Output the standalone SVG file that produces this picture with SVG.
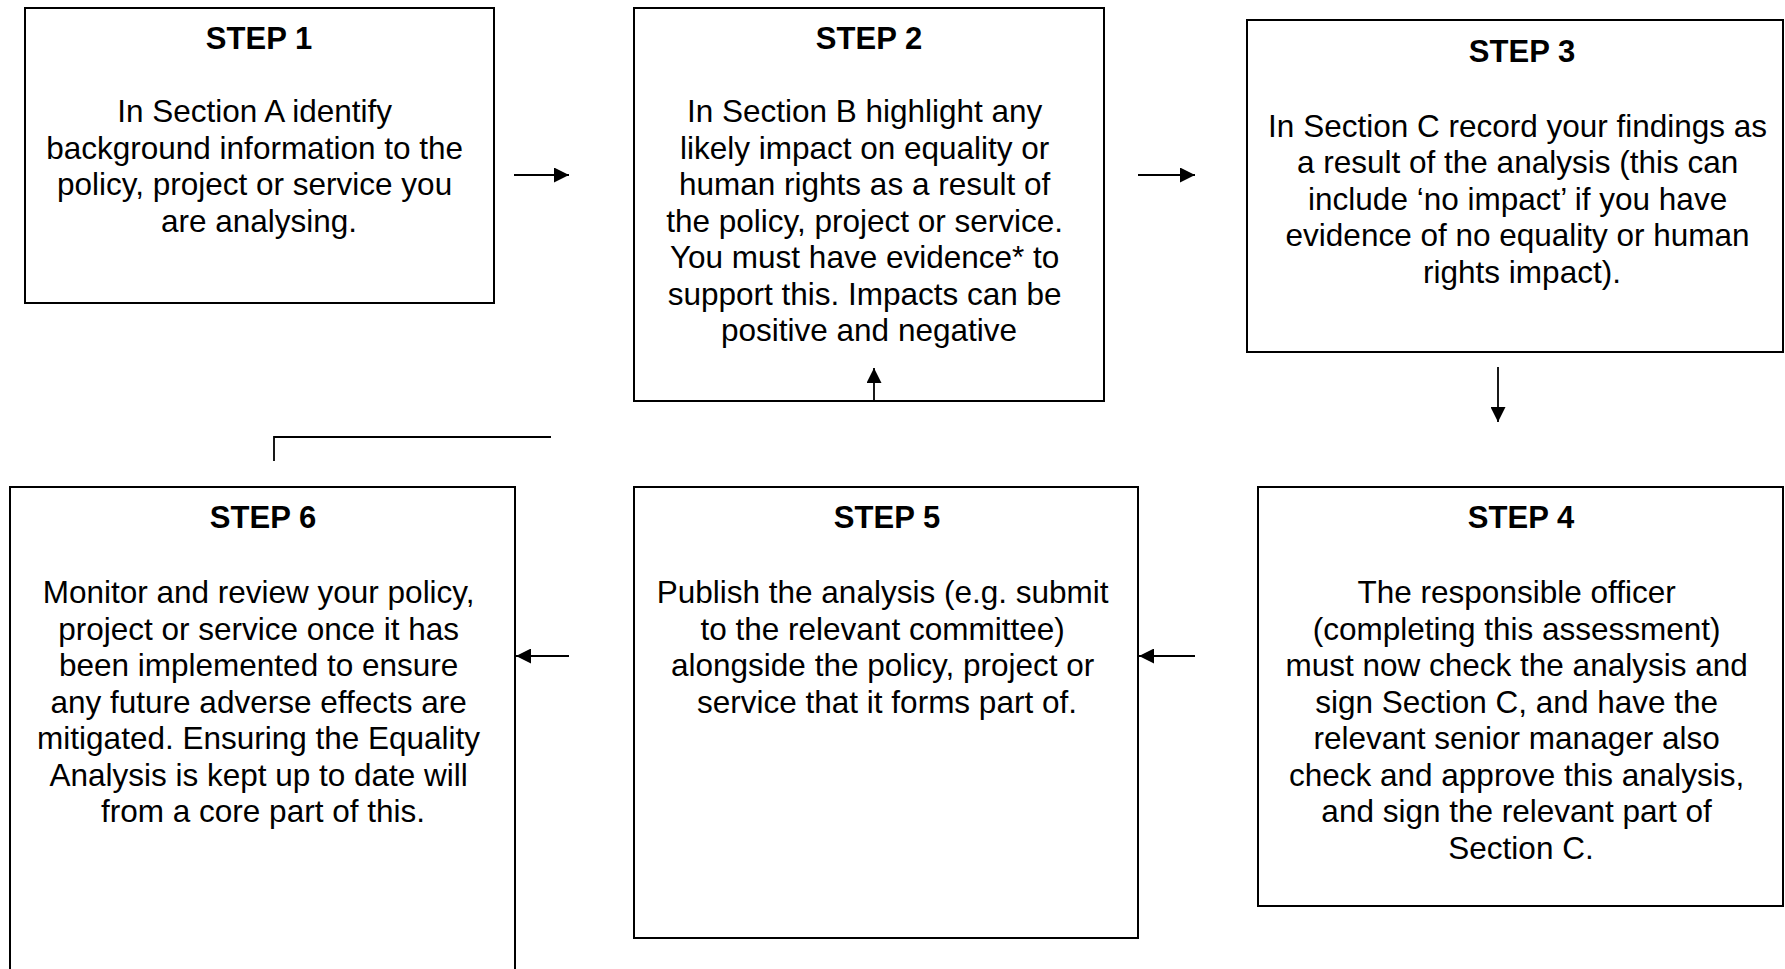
<svg xmlns="http://www.w3.org/2000/svg" width="1785" height="969" viewBox="0 0 1785 969">
  <style>
    .box { fill: #ffffff; stroke: #000000; stroke-width: 2; }
    .title { font-family: "Liberation Sans", Arial, sans-serif; font-size: 31px; font-weight: bold; fill: #000000; text-anchor: middle; }
    .body { font-family: "Liberation Sans", Arial, sans-serif; font-size: 31.5px; fill: #000000; text-anchor: middle; }
    .link { fill: none; stroke: #000000; stroke-width: 1.8; }
  </style>
  <defs>
    <marker id="arrow" viewBox="0 0 15 15" refX="15" refY="7.5" markerWidth="15" markerHeight="15" markerUnits="userSpaceOnUse" orient="auto">
      <path d="M0,0 L15,7.5 L0,15 z" fill="#000000"/>
    </marker>
  </defs>
  <rect width="1785" height="969" fill="#ffffff"/>

  <g id="step1">
    <rect class="box" x="25" y="8" width="469" height="295"/>
    <text class="title" x="259" y="49">STEP 1</text>
    <text class="body">
      <tspan x="259" y="122">In Section A identify</tspan>
      <tspan x="259" y="158.5">background information to the</tspan>
      <tspan x="259" y="195">policy, project or service you</tspan>
      <tspan x="259" y="231.5">are analysing.</tspan>
    </text>
  </g>

  <g id="step2">
    <rect class="box" x="634" y="8" width="470" height="393"/>
    <text class="title" x="869" y="49">STEP 2</text>
    <text class="body">
      <tspan x="869" y="122">In Section B highlight any</tspan>
      <tspan x="869" y="158.5">likely impact on equality or</tspan>
      <tspan x="869" y="195">human rights as a result of</tspan>
      <tspan x="869" y="231.5">the policy, project or service.</tspan>
      <tspan x="869" y="268">You must have evidence* to</tspan>
      <tspan x="869" y="304.5">support this. Impacts can be</tspan>
      <tspan x="869" y="341">positive and negative</tspan>
    </text>
  </g>

  <g id="step3">
    <rect class="box" x="1247" y="20" width="536" height="332"/>
    <text class="title" x="1522" y="62">STEP 3</text>
    <text class="body">
      <tspan x="1522" y="136.5">In Section C record your findings as</tspan>
      <tspan x="1522" y="173">a result of the analysis (this can</tspan>
      <tspan x="1522" y="209.5">include ‘no impact’ if you have</tspan>
      <tspan x="1522" y="246">evidence of no equality or human</tspan>
      <tspan x="1522" y="282.5">rights impact).</tspan>
    </text>
  </g>

  <g id="step4">
    <rect class="box" x="1258" y="487" width="525" height="419"/>
    <text class="title" x="1521" y="528">STEP 4</text>
    <text class="body">
      <tspan x="1521" y="603">The responsible officer</tspan>
      <tspan x="1521" y="639.5">(completing this assessment)</tspan>
      <tspan x="1521" y="676">must now check the analysis and</tspan>
      <tspan x="1521" y="712.5">sign Section C, and have the</tspan>
      <tspan x="1521" y="749">relevant senior manager also</tspan>
      <tspan x="1521" y="785.5">check and approve this analysis,</tspan>
      <tspan x="1521" y="822">and sign the relevant part of</tspan>
      <tspan x="1521" y="858.5">Section C.</tspan>
    </text>
  </g>

  <g id="step5">
    <rect class="box" x="634" y="487" width="504" height="451"/>
    <text class="title" x="887" y="528">STEP 5</text>
    <text class="body">
      <tspan x="887" y="603">Publish the analysis (e.g. submit</tspan>
      <tspan x="887" y="639.5">to the relevant committee)</tspan>
      <tspan x="887" y="676">alongside the policy, project or</tspan>
      <tspan x="887" y="712.5">service that it forms part of.</tspan>
    </text>
  </g>

  <g id="step6">
    <rect class="box" x="10" y="487" width="505" height="500"/>
    <text class="title" x="263" y="528">STEP 6</text>
    <text class="body">
      <tspan x="263" y="603">Monitor and review your policy,</tspan>
      <tspan x="263" y="639.5">project or service once it has</tspan>
      <tspan x="263" y="676">been implemented to ensure</tspan>
      <tspan x="263" y="712.5">any future adverse effects are</tspan>
      <tspan x="263" y="749">mitigated. Ensuring the Equality</tspan>
      <tspan x="263" y="785.5">Analysis is kept up to date will</tspan>
      <tspan x="263" y="822">from a core part of this.</tspan>
    </text>
  </g>

  <g id="connectors">
    <line class="link" x1="514" y1="175" x2="569" y2="175" marker-end="url(#arrow)"/>
    <line class="link" x1="1138" y1="175" x2="1195" y2="175" marker-end="url(#arrow)"/>
    <line class="link" x1="1498" y1="367" x2="1498" y2="422" marker-end="url(#arrow)"/>
    <line class="link" x1="1195" y1="656" x2="1139" y2="656" marker-end="url(#arrow)"/>
    <line class="link" x1="569" y1="656" x2="516" y2="656" marker-end="url(#arrow)"/>
    <polyline class="link" points="274,461 274,437 551,437"/>
    <line class="link" x1="874" y1="401" x2="874" y2="368" marker-end="url(#arrow)"/>
  </g>
</svg>
